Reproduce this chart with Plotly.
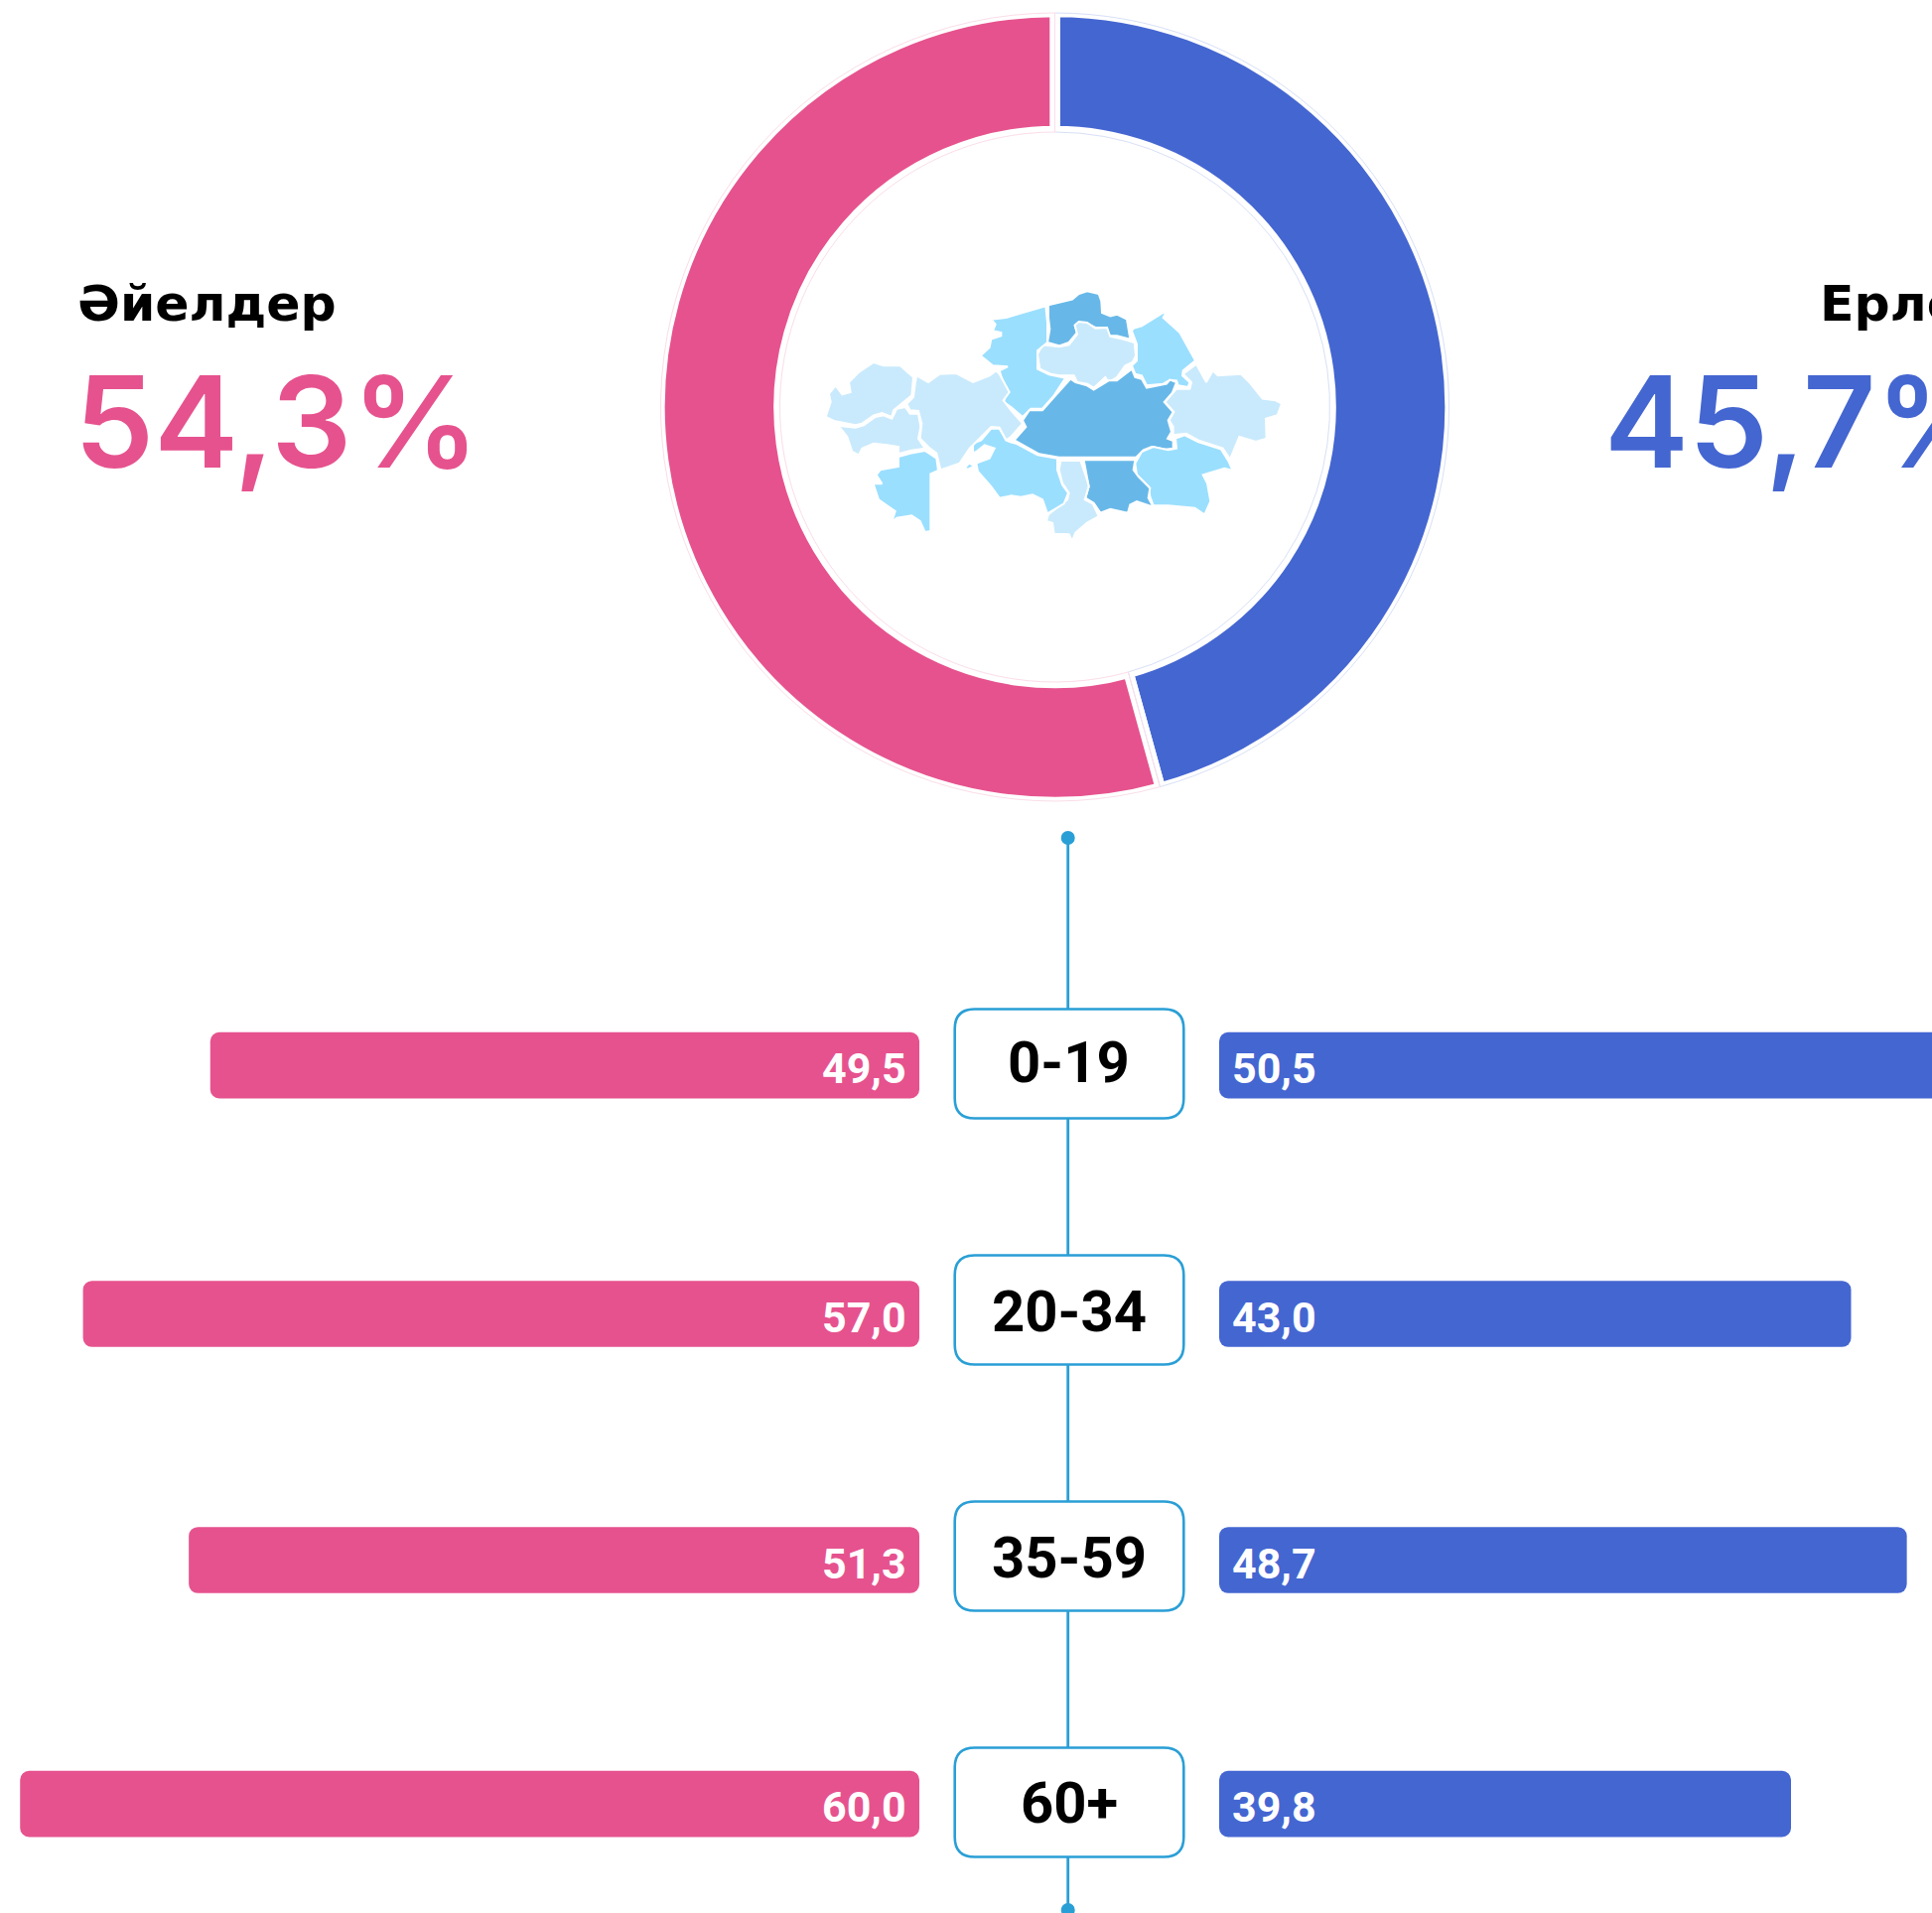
import plotly.graph_objects as go

W, H = 1946, 1927

# ---------- data ----------
age_groups = ["0-19", "20-34", "35-59", "60+"]
women_labels = ["49,5", "57,0", "51,3", "60,0"]
men_labels = ["50,5", "43,0", "48,7", "39,8"]
# drawn bar lengths (axis units, 14.4 px each)
women_bar_lengths = [49.6, 58.5, 51.1, 62.9]
men_bar_lengths = [50.5, 44.2, 48.1, 40.0]

gender_names = ["Ерлер", "Әйелдер"]
gender_shares = [45.7, 54.3]
gender_share_labels = ["45,7%", "54,3%"]

# hand-traced map regions (outline in map units) with their colour class
region_class = {
    "north": 2, "akmola": 0, "kostanay": 1, "pavlodar": 1, "karaganda": 2,
    "east": 0, "almaty": 1, "jambyl": 2, "turkistan": 0, "kyzylorda": 1,
    "aktobe": 0, "west": 0, "atyrau": 0, "mangystau": 1, "aral": 1,
}
region_outline = {
    "north": [(738,112),(810,95),(830,78),(855,70),(890,78),(898,100),(900,135),(925,145),(945,140),(975,155),(985,215),(965,210),(945,205),(920,205),(915,180),(880,180),(860,170),(830,165),(818,175),(825,195),(800,225),(770,235),(740,228),(735,225),(742,185),(738,150)],
    "akmola": [(720,232),(770,238),(800,232),(825,200),(818,172),(830,162),(855,165),(880,182),(915,180),(925,207),(965,215),(998,225),(1002,265),(992,285),(970,295),(945,330),(920,345),(910,330),(875,362),(855,350),(825,345),(815,325),(770,325),(745,320),(712,305),(705,260)],
    "kostanay": [(565,155),(610,150),(660,135),(730,115),(735,165),(735,225),(705,250),(705,305),(740,322),(790,332),(755,385),(720,425),(685,425),(660,450),(625,420),(603,405),(610,375),(590,310),(615,298),(570,295),(533,265),(560,240),(565,215),(595,205),(595,195),(570,190),(578,170)],
    "pavlodar": [(995,182),(1020,175),(1085,135),(1095,130),(1085,150),(1135,195),(1182,280),(1145,310),(1143,325),(1165,345),(1160,360),(1130,355),(1125,340),(1105,338),(1085,350),(1035,355),(1020,325),(1000,320),(990,295),(1005,280),(1005,230),(990,190)],
    "karaganda": [(805,335),(820,345),(855,355),(875,368),(920,340),(945,340),(990,305),(1000,330),(1020,335),(1035,362),(1095,350),(1105,338),(1125,345),(1112,378),(1088,405),(1115,435),(1100,460),(1110,495),(1098,515),(1115,522),(1115,545),(1090,548),(1050,540),(1025,550),(1003,572),(770,572),(710,562),(635,520),(670,480),(660,460),(680,430),(720,430),(755,390)],
    "east": [(1185,290),(1215,345),(1235,310),(1250,325),(1320,320),(1345,345),(1385,395),(1425,400),(1443,410),(1430,445),(1395,455),(1397,515),(1365,525),(1315,510),(1287,578),(1265,545),(1190,520),(1155,500),(1115,505),(1115,480),(1103,460),(1117,435),(1090,405),(1125,365),(1165,365),(1170,345),(1145,320)],
    "almaty": [(1122,515),(1150,505),(1190,525),(1260,548),(1283,585),(1295,612),(1270,605),(1205,625),(1218,650),(1228,705),(1210,745),(1180,725),(1100,718),(1055,718),(1045,690),(1040,660),(1005,625),(1000,590),(1020,555),(1055,540),(1100,550),(1125,545)],
    "jambyl": [(845,580),(1000,580),(995,610),(1010,630),(1045,665),(1040,695),(1055,722),(1005,705),(985,715),(978,740),(925,728),(895,740),(875,710),(850,695),(860,660)],
    "turkistan": [(775,582),(835,582),(855,640),(860,660),(848,700),(872,712),(890,750),(855,770),(820,800),(810,825),(800,805),(755,803),(750,770),(732,765),(738,745),(795,700),(800,680),(780,650),(770,610)],
    "kyzylorda": [(620,525),(640,530),(705,565),(765,575),(765,610),(780,655),(798,680),(785,712),(735,742),(720,700),(690,685),(655,692),(625,688),(590,695),(565,660),(525,615),(520,590),(560,575),(575,545),(545,535),(520,555),(510,560),(510,530),(535,520),(565,485),(590,485),(610,520)],
    "aktobe": [(340,325),(375,345),(410,320),(460,318),(510,345),(560,325),(580,310),(590,320),(620,375),(602,400),(625,430),(660,470),(625,510),(610,520),(590,482),(565,480),(530,515),(500,545),(470,590),(412,610),(400,560),(380,545),(350,515),(355,470),(345,432),(320,430),(310,410),(330,390),(335,350)],
    "west": [(65,450),(80,405),(75,380),(95,355),(115,382),(140,375),(135,345),(165,315),(210,285),(240,295),(290,295),(330,330),(325,385),(300,405),(270,430),(265,450),(235,438),(210,445),(175,470),(155,475),(90,462)],
    "atyrau": [(85,475),(155,482),(180,475),(215,450),(240,445),(265,455),(280,425),(305,420),(320,440),(345,440),(352,480),(345,515),(365,545),(320,552),(285,562),(285,540),(250,535),(210,530),(175,545),(165,565),(145,555),(130,510),(110,485)],
    "mangystau": [(285,570),(320,560),(365,552),(400,575),(405,612),(382,622),(382,795),(365,798),(350,765),(325,748),(280,755),(265,768),(275,735),(245,715),(225,700),(210,655),(190,650),(235,652),(218,625),(230,610),(285,600)],
    "aral": [(485,605),(498,590),(515,598),(495,608)],
}

# ---------- style ----------
PINK, BLUE = "#E6528E", "#4466D1"
PINK_EDGE, BLUE_EDGE = "#FBDDE9", "#D8E0F7"
LINE = "#2A9FD6"
MAP_COLOURS = ["#C9EAFC", "#9BDFFF", "#67B8E8"]
PX_PER_UNIT = 14.4
ROW_TOP, ROW_STEP = 1071.5, 248.0
BAR_H = 66.7
BAR_NUDGE = [1.6, 4.0, 4.0, 1.6]      # px, bars sit slightly below their row centre
BOX_TEXT_NUDGE = [1.5, -1.0, -1.2, -0.5]
WOMEN_END, MEN_START = 926.0, 1228.0
CX, CY = 1062.5, 410.0
MID_X = 1075.7
LABEL_FONT = "Roboto"
HEAD_FONT = "Inter"
TITLE_FONT = "DejaVu Sans"


def fx(p):
    return p / W


def fy(p):
    return 1 - p / H


def pie_domain(r):
    return dict(x=[fx(CX - r), fx(CX + r)], y=[fy(CY + r), fy(CY - r)])


fig = go.Figure()

# map
for name, pts in region_outline.items():
    closed = pts + pts[:1]
    fig.add_trace(go.Scatter(
        x=[p[0] for p in closed], y=[p[1] for p in closed],
        xaxis="x3", yaxis="y3", mode="lines", fill="toself",
        fillcolor=MAP_COLOURS[region_class[name]],
        line=dict(color="white", width=2), hoverinfo="skip", showlegend=False,
    ))

# bars (an explicit base makes plotly round both ends)
offsets = [(d - BAR_H / 2) / ROW_STEP for d in BAR_NUDGE]
for lengths, colour, xa in ((women_bar_lengths, PINK, "x"), (men_bar_lengths, BLUE, "x2")):
    fig.add_trace(go.Bar(
        y=age_groups, x=lengths, base=[0] * len(lengths), orientation="h", xaxis=xa, yaxis="y",
        marker=dict(color=colour, line_width=0), width=BAR_H / ROW_STEP,
        offset=offsets, showlegend=False, hoverinfo="skip",
    ))

# donut (white edges make the gaps) and its thin outline on top
fig.add_trace(go.Pie(
    labels=gender_names, values=gender_shares, sort=False, direction="clockwise",
    domain=pie_domain(398), hole=278.1 / 398, textinfo="none", hoverinfo="skip",
    showlegend=False, marker=dict(colors=[BLUE, PINK], line=dict(color="white", width=10.4)),
))
fig.add_trace(go.Pie(
    labels=gender_names, values=gender_shares, sort=False, direction="clockwise",
    domain=pie_domain(397), hole=277 / 397, textinfo="none", hoverinfo="skip",
    showlegend=False, marker=dict(colors=["rgba(0,0,0,0)"] * 2,
                                  line=dict(color=[BLUE_EDGE, PINK_EDGE], width=1)),
))

# connector, dots and boxes
shapes = [dict(type="line", xref="paper", yref="paper", x0=fx(MID_X), x1=fx(MID_X),
               y0=fy(844), y1=fy(H), line=dict(color=LINE, width=2.8), layer="above")]
for cy_dot in (844, 1924):
    shapes.append(dict(type="circle", xref="paper", yref="paper",
                       x0=fx(MID_X - 7), x1=fx(MID_X + 7), y0=fy(cy_dot + 7), y1=fy(cy_dot - 7),
                       fillcolor=LINE, line_width=0, layer="above"))
hw, hh, rad = 115.3, 55.0, 20.0
box_path = (f"M{-hw+rad},{-hh} L{hw-rad},{-hh} Q{hw},{-hh} {hw},{-hh+rad} L{hw},{hh-rad} "
            f"Q{hw},{hh} {hw-rad},{hh} L{-hw+rad},{hh} Q{-hw},{hh} {-hw},{hh-rad} "
            f"L{-hw},{-hh+rad} Q{-hw},{-hh} {-hw+rad},{-hh} Z")
for g in age_groups:
    shapes.append(dict(type="path", path=box_path, xref="paper", yref="y",
                       xsizemode="pixel", ysizemode="pixel",
                       xanchor=fx(1077.0), yanchor=g,
                       fillcolor="white", line=dict(color=LINE, width=2.6), layer="above"))

# text
ann = []
for i, g in enumerate(age_groups):
    ann.append(dict(x=0, xref="x", y=g, yref="y", text=women_labels[i], showarrow=False,
                    xanchor="right", yanchor="middle", xshift=-11, yshift=-BAR_NUDGE[i] - 3,
                    font=dict(family=LABEL_FONT, size=43, color="white", weight=700)))
    ann.append(dict(x=0, xref="x2", y=g, yref="y", text=men_labels[i], showarrow=False,
                    xanchor="left", yanchor="middle", xshift=11, yshift=-BAR_NUDGE[i] - 3,
                    font=dict(family=LABEL_FONT, size=43, color="white", weight=700)))
    ann.append(dict(x=fx(1076.7), xref="paper", y=g, yref="y", text=g, showarrow=False,
                    xanchor="center", yanchor="middle", yshift=BOX_TEXT_NUDGE[i],
                    font=dict(family=LABEL_FONT, size=58, color="black", weight=700)))


def head(x, y, text, size, colour, weight, family):
    ann.append(dict(x=fx(x), xref="paper", y=fy(y), yref="paper", text=text, showarrow=False,
                    xanchor="left", yanchor="middle",
                    font=dict(family=family, size=size, color=colour, weight=weight)))


head(76, 306, gender_names[1], 50.5, "black", 700, TITLE_FONT)
head(1831, 306, gender_names[0], 50.5, "black", 700, TITLE_FONT)
head(73, 424, gender_share_labels[1], 127.5, PINK, 600, HEAD_FONT)
head(1614, 424, gender_share_labels[0], 127.5, BLUE, 600, HEAD_FONT)

hidden = dict(visible=False, fixedrange=True)
fig.update_layout(
    width=W, height=H, margin=dict(l=0, r=0, t=0, b=0, pad=0, autoexpand=False),
    paper_bgcolor="white", plot_bgcolor="rgba(0,0,0,0)", barmode="overlay", barcornerradius=9,
    xaxis=dict(hidden, domain=[0, fx(WOMEN_END)], range=[WOMEN_END / PX_PER_UNIT, 0], anchor="y"),
    xaxis2=dict(hidden, domain=[fx(MEN_START), 1], range=[0, (W - MEN_START) / PX_PER_UNIT], anchor="y"),
    yaxis=dict(hidden, domain=[0, 1], type="category", categoryorder="array", categoryarray=age_groups,
               range=[(H - ROW_TOP) / ROW_STEP, -ROW_TOP / ROW_STEP]),
    xaxis3=dict(hidden, domain=[fx(810), fx(1310)], range=[0, 1500], anchor="y3"),
    yaxis3=dict(hidden, domain=[fy(560), fy(270)], range=[870, 0], anchor="x3"),
    shapes=shapes, annotations=ann,
)

fig.write_html("out.html", config=dict(displayModeBar=False),
               post_script="document.body.style.margin='0';document.body.style.overflow='hidden';")
